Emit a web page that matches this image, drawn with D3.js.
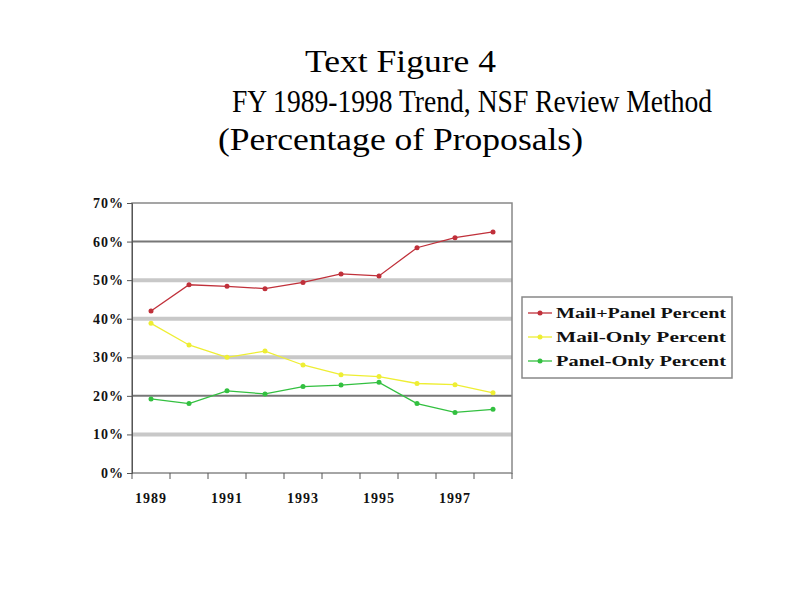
<!DOCTYPE html><html><head><script src="https://cdn.jsdelivr.net/npm/d3@7"></script>
<style>body{margin:0;background:#fff}</style></head><body><svg id="c" width="800" height="600"></svg><script>
const years=[1989,1990,1991,1992,1993,1994,1995,1996,1997,1998];
const mailPanel=[42,48.8,48.4,47.8,49.4,51.6,51.1,58.4,61,62.5];
const mailOnly=[38.8,33.2,30,31.6,28,25.5,25,23.2,22.9,20.8];
const panelOnly=[19.2,18,21.3,20.5,22.4,22.8,23.5,18,15.7,16.5];
const seriesNames=["Mail+Panel Percent","Mail-Only Percent","Panel-Only Percent"];
const yTicks=[0,10,20,30,40,50,60,70];
const xLabels=[1989,1991,1993,1995,1997];
const svg=d3.select("#c");
const L=132,R=512,T=203,B=473;
const x=d3.scaleBand().domain(years).range([L,R]);
const y=d3.scaleLinear().domain([0,70]).range([B,T]);
const titles=[["Text Figure 4",305,72,191],["FY 1989-1998 Trend, NSF Review Method",232,112,480],["(Percentage of Proposals)",218,150,365]];
titles.forEach(t=>svg.append("text").attr("x",t[1]).attr("y",t[2]).attr("textLength",t[3]).attr("lengthAdjust","spacingAndGlyphs").attr("font-family","Liberation Serif").attr("font-size",32).text(t[0]));
yTicks.filter(v=>v>0&&v<70).forEach(v=>{const dark=(v==60||v==20);
 svg.append("line").attr("x1",L).attr("x2",R).attr("y1",y(v)).attr("y2",y(v)).attr("stroke",dark?"#777":"#c8c8c8").attr("stroke-width",dark?2:4);});
svg.append("rect").attr("x",L).attr("y",T).attr("width",R-L).attr("height",B-T).attr("fill","none").attr("stroke","#888").attr("stroke-width",1.5);
const ya=svg.append("g").attr("transform",`translate(${L},0)`).call(d3.axisLeft(y).tickValues(yTicks).tickFormat(d=>d+"%").tickSize(5));
const xa=svg.append("g").attr("transform",`translate(0,${B})`).call(d3.axisBottom(x).tickValues(xLabels).tickSize(0).tickPadding(20));
[ya,xa].forEach(a=>{a.select(".domain").attr("stroke","#555");a.selectAll("text").attr("font-family","Liberation Serif").attr("font-weight","bold").attr("font-size",14).attr("letter-spacing",1).attr("fill","#111");a.selectAll("line").attr("stroke","#555");});
xa.select(".domain").remove();
svg.append("g").selectAll("line").data(d3.range(11)).join("line").attr("x1",i=>L+i*x.step()).attr("x2",i=>L+i*x.step()).attr("y1",B).attr("y2",B+6).attr("stroke","#555");
const cols=["#c0303a","#eeee33","#33c040"];
[mailPanel,mailOnly,panelOnly].forEach((s,k)=>{
 svg.append("path").datum(s).attr("fill","none").attr("stroke",cols[k]).attr("stroke-width",1.3)
 .attr("d",d3.line().x((d,i)=>x(years[i])+x.bandwidth()/2).y(d=>y(d)));
 svg.append("g").selectAll("circle").data(s).join("circle").attr("cx",(d,i)=>x(years[i])+x.bandwidth()/2).attr("cy",d=>y(d)).attr("r",2.5).attr("fill",cols[k]);
});
svg.append("rect").attr("x",522).attr("y",297).attr("width",210).attr("height",81).attr("fill","#fff").attr("stroke","#888").attr("stroke-width",1.5);
seriesNames.forEach((n,k)=>{const yy=313+k*24;
 svg.append("line").attr("x1",528).attr("x2",552).attr("y1",yy).attr("y2",yy).attr("stroke",cols[k]).attr("stroke-width",1.3);
 svg.append("circle").attr("cx",540).attr("cy",yy).attr("r",2.5).attr("fill",cols[k]);
 svg.append("text").attr("x",556).attr("y",yy+5).attr("textLength",170).attr("lengthAdjust","spacingAndGlyphs").attr("font-family","Liberation Serif").attr("font-weight","bold").attr("font-size",14.5).attr("fill","#111").text(n);
});
</script></body></html>
